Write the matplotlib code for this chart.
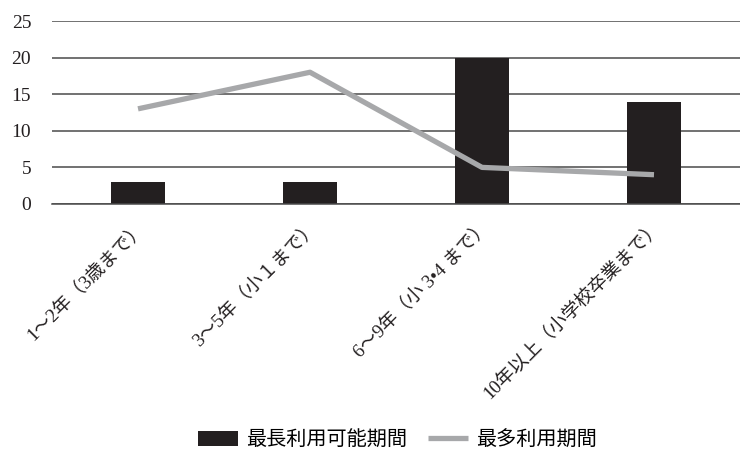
import matplotlib.pyplot as plt
import matplotlib.transforms as mtransforms
import numpy as np

# data
categories = ['1〜2年（3歳まで）', '3〜5年（小１まで）', '6〜9年（小 3•4 まで）', '10年以上（小学校卒業まで）']
longest_available = [3, 3, 20, 14]   # 最長利用可能期間
most_used = [13, 18, 5, 4]           # 最多利用期間
y_ticks = [0, 5, 10, 15, 20, 25]

bar_color = '#231f20'
line_color = '#a7a8aa'
grid_color = '#4a4a4a'
jp_fonts = ['Liberation Serif', 'Noto Sans CJK JP', 'DejaVu Sans']

fig = plt.figure(figsize=(7.4, 4.49), dpi=100)
ax = fig.add_axes([0.0703, 0.5457, 0.9297, 0.4075])

x = np.arange(len(categories))
ax.bar(x, longest_available, width=0.314, color=bar_color, zorder=2,
       label='最長利用可能期間')
ax.plot(x, most_used, color=line_color, linewidth=3.8, zorder=3,
        solid_capstyle='butt', label='最多利用期間')

ax.set_ylim(0, 25)
ax.set_xlim(-0.5, 3.5)
ax.set_yticks(y_ticks)
ax.set_yticklabels([str(v) for v in y_ticks], family='Liberation Serif',
                   fontsize=14, color=bar_color)
ax.yaxis.grid(True, color=grid_color, linewidth=1.1, zorder=0)
ax.set_axisbelow(True)
ax.tick_params(axis='y', length=0, pad=15)
ax.tick_params(axis='x', length=0, pad=10)

ax.set_xticks(x)
ax.set_xticklabels(categories, rotation=45, ha='right',
                   family=jp_fonts, fontsize=13.5, color=bar_color)
# nudge labels right so the closing bracket sits under the bar
shift = mtransforms.ScaledTranslation(8 / 72, 0, fig.dpi_scale_trans)
for lbl in ax.get_xticklabels():
    lbl.set_transform(lbl.get_transform() + shift)

for side in ['left', 'right', 'top']:
    ax.spines[side].set_visible(False)
ax.spines['bottom'].set_color(grid_color)
ax.spines['bottom'].set_linewidth(1.1)

handles, labels = ax.get_legend_handles_labels()
fig.legend(handles[::-1], labels[::-1], loc='center', bbox_to_anchor=(0.537, 0.02),
           ncol=2, frameon=False, prop={'family': jp_fonts[1:], 'size': 14.5},
           handlelength=2.0, handleheight=0.75, handletextpad=0.4, columnspacing=1.0,
           borderaxespad=0, borderpad=0)

fig.savefig('out.png', dpi=100)
